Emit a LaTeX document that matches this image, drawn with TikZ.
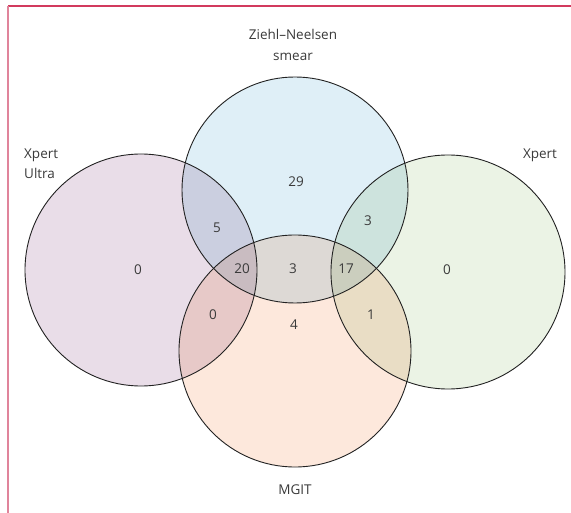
\documentclass[tikz,border=0pt]{standalone}
\usepackage{fontspec}
\setmainfont{Open Sans}
\definecolor{frametop}{HTML}{D23A5E}
\definecolor{frameleft}{HTML}{E0849B}
\definecolor{cultra}{HTML}{E9DDE8}
\definecolor{czn}{HTML}{DFEFF7}
\definecolor{cxpert}{HTML}{EBF3E5}
\definecolor{cmgit}{HTML}{FDE8DC}
\definecolor{txt}{HTML}{3A3A3A}
\definecolor{edge}{HTML}{222222}
\tikzset{
  setlabel/.style={font=\fontsize{13.5}{16}\selectfont, text=txt, inner sep=0pt, anchor=base},
  count/.style={font=\fontsize{13.5}{16}\selectfont, text=txt, inner sep=0pt, anchor=center},
  ring/.style={draw=edge, line width=0.9pt}
}
\begin{document}
\begin{tikzpicture}[x=1pt,y=-1pt]
\useasboundingbox (0,0) rectangle (571,513);
\fill[white] (0,0) rectangle (571,513);
% frame
\draw[frametop, line width=1.2pt] (8,6) -- (571,6);
\draw[frameleft, line width=1.2pt] (8,6) -- (8,513);
% coordinates of circle centres
\coordinate (cU) at (141,270);
\coordinate (cZ) at (295,190);
\coordinate (cX) at (448,272);
\coordinate (cM) at (295,351);
% fills with multiply blending
\begin{scope}[blend group=multiply]
  \fill[cultra] (cU) circle[radius=116];
  \fill[czn] (cZ) circle[radius=113];
  \fill[cxpert] (cX) circle[radius=117];
  \fill[cmgit] (cM) circle[radius=116];
\end{scope}
% outlines
\draw[ring] (cU) circle[radius=116];
\draw[ring] (cZ) circle[radius=113];
\draw[ring] (cX) circle[radius=117];
\draw[ring] (cM) circle[radius=116];
% set labels
\node[setlabel, anchor=base west] (lU1) at (24,159) {Xpert};
\node[setlabel, anchor=base west] (lU2) at (24,179) {Ultra};
\node[setlabel] (lZ1) at (293,40) {Ziehl–Neelsen};
\node[setlabel] (lZ2) at (293,61) {smear};
\node[setlabel] (lX) at (540,159) {Xpert};
\node[setlabel] (lM) at (295,494) {MGIT};
% counts
\node[count] (n29) at (296,182) {29};
\node[count] (n5) at (217,228) {5};
\node[count] (n3a) at (368,221) {3};
\node[count] (n0a) at (138,270) {0};
\node[count] (n20) at (242,269) {20};
\node[count] (n3b) at (293,269) {3};
\node[count] (n17) at (346,269) {17};
\node[count] (n0b) at (447,270) {0};
\node[count] (n0c) at (213,315) {0};
\node[count] (n1) at (371,315) {1};
\node[count] (n4) at (294,325) {4};
\end{tikzpicture}
\end{document}
